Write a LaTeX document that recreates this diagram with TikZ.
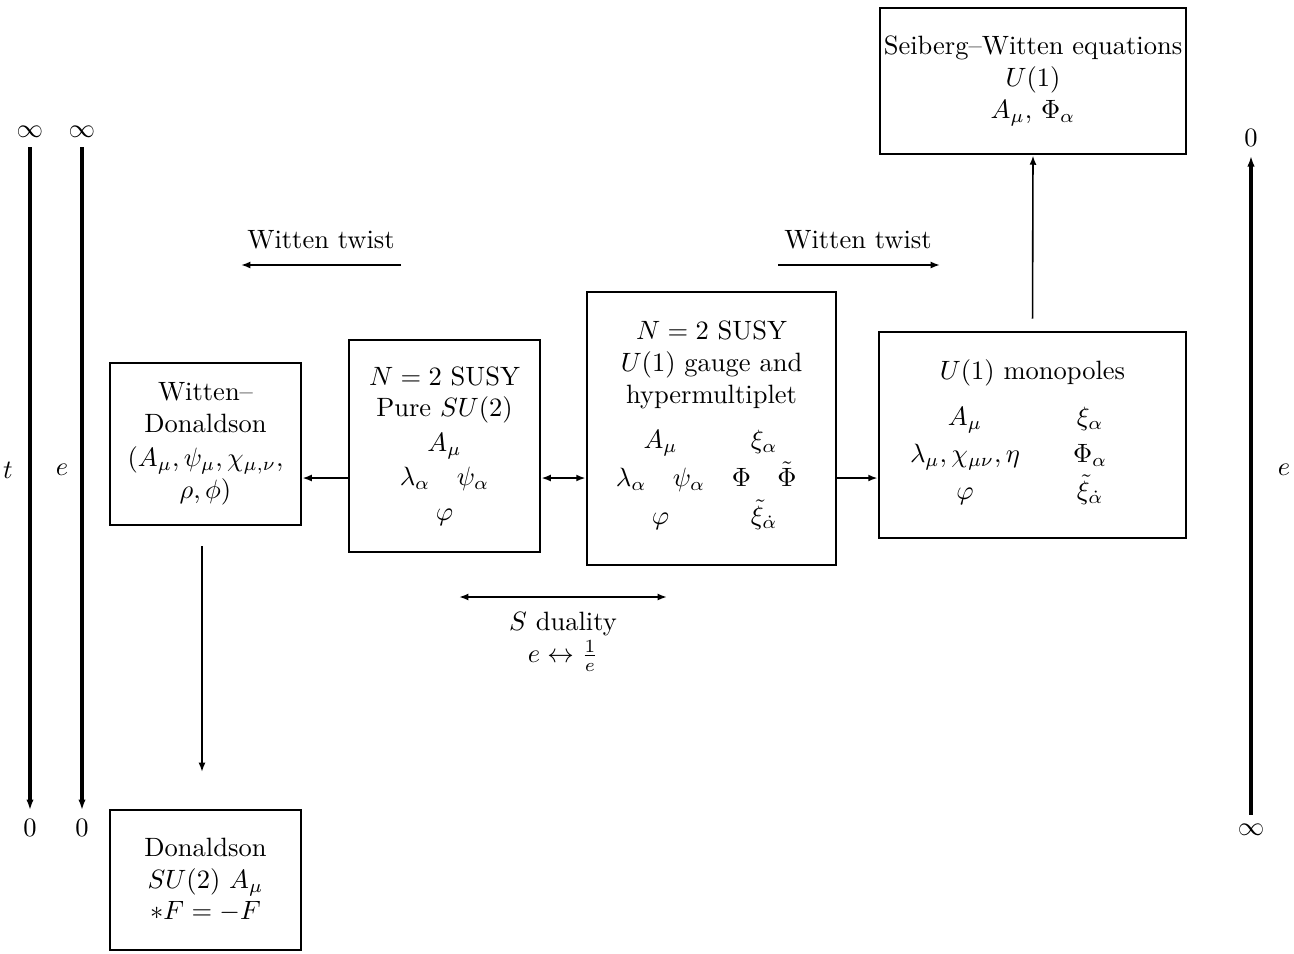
\documentclass[tikz,border=0pt]{standalone}
\usepackage{amsmath,amssymb}
\usepackage{tikz}
\usetikzlibrary{arrows.meta}
\usetikzlibrary{positioning}

\tikzset{
  box/.style={draw,line width=1.1pt,align=center,inner sep=0pt},
  conn/.style={-{Latex[length=3.5pt,width=2.6pt]},line width=0.6pt},
  twoway/.style={{Latex[length=3.5pt,width=2.6pt]}-{Latex[length=3.5pt,width=2.6pt]}},
  axis/.style={-{Latex[length=4pt,width=2.8pt]},line width=1.3pt},
}

\begin{document}
\begin{tikzpicture}[x=0.013263cm,y=-0.013263cm]
  \useasboundingbox (0,0) rectangle (1294,953);
  % boxes
  \node[box,minimum width=2.533cm,minimum height=2.148cm](wd) at (205.5,444)
    {Witten--\\Donaldson\\[1pt]$(A_\mu,\psi_\mu,\chi_{\mu,\nu},$\\$\rho,\phi)$};
  \node[box,minimum width=2.533cm,minimum height=2.811cm](puresu) at (444.5,446)
    {$N=2$ SUSY\\Pure $SU(2)$\\[1pt]$A_\mu$\\[1pt]$\lambda_\alpha\quad\psi_\alpha$\\[1pt]$\varphi$};
  \node[box,minimum width=3.302cm,minimum height=3.620cm](hyper) at (711.5,428.5)
    {$N=2$ SUSY\\$U(1)$ gauge and\\hypermultiplet\\[4pt]
     $\renewcommand\arraystretch{1.2}\begin{array}{cccc}
       \multicolumn{2}{c}{A_\mu} & \multicolumn{2}{c}{\xi_\alpha}\\
       \lambda_\alpha & \psi_\alpha & \Phi & \tilde\Phi\\
       \multicolumn{2}{c}{\varphi} & \multicolumn{2}{c}{\tilde\xi_{\dot\alpha}}
     \end{array}$\hspace*{4pt}};
  \node[box,minimum width=4.071cm,minimum height=2.732cm](mono) at (1032.5,435)
    {$U(1)$ monopoles\\[4pt]
     $\arraycolsep=10pt\renewcommand\arraystretch{1.17}\begin{array}{cc}
       A_\mu & \xi_\alpha\\
       \lambda_\mu,\chi_{\mu\nu},\eta & \Phi_\alpha\\
       \varphi & \tilde\xi_{\dot\alpha}
     \end{array}$\hspace*{18pt}};
  \node[box,minimum width=4.058cm,minimum height=1.936cm](sw) at (1033,81)
    {Seiberg--Witten equations\\$U(1)$\\$A_\mu,\,\Phi_\alpha$};
  \node[box,minimum width=2.533cm,minimum height=1.856cm](don) at (205.5,880)
    {Donaldson\\$SU(2)$ $A_\mu$\\$*F=-F$};

  % scales
  \node(tinf) at (30,132) {$\infty$};
  \node(tzero) at (30,828) {$0$};
  \node(einf) at (82,132) {$\infty$};
  \node(ezero) at (82,828) {$0$};
  \node(rzero) at (1251,138) {$0$};
  \node(rinf) at (1251,830) {$\infty$};
  \node(tlab) at (8,470) {$t$};
  \node(elab) at (62,470) {$e$};
  \node(rlab) at (1284,470) {$e$};
  \draw[axis] (tinf) -- (tzero);
  \draw[axis] (einf) -- (ezero);
  \draw[axis] (rinf) -- (rzero);

  % connectors
  \coordinate (row) at (0,478);
  \draw[conn] (puresu.west |- row) -- (wd.east |- row);
  \draw[conn,twoway] (puresu.east |- row) -- (hyper.west |- row);
  \draw[conn] (hyper.east |- row) -- (mono.west |- row);
  \draw[conn,shorten <=4.5pt] (mono.north) -- (sw.south);
  \coordinate (wdend) at (202,772);
  \draw[conn] ([yshift=-0.265cm]wd.south -| wdend) -- (wdend);

  % twists and duality
  \node(twistl) at (321,240) {Witten twist};
  \node(twistr) at (858,240) {Witten twist};
  \coordinate (tla) at (401,265);
  \coordinate (tlb) at (241,265);
  \coordinate (tra) at (778,265);
  \coordinate (trb) at (940,265);
  \draw[conn] (tla) -- (tlb);
  \draw[conn] (tra) -- (trb);
  \node[align=center](sdual) at (563,642) {$S$ duality\\$e\leftrightarrow\frac{1}{e}$};
  \coordinate (sda) at (459,597);
  \coordinate (sdb) at (667,597);
  \draw[conn,twoway,line width=0.95pt] (sda) -- (sdb);
\end{tikzpicture}
\end{document}
